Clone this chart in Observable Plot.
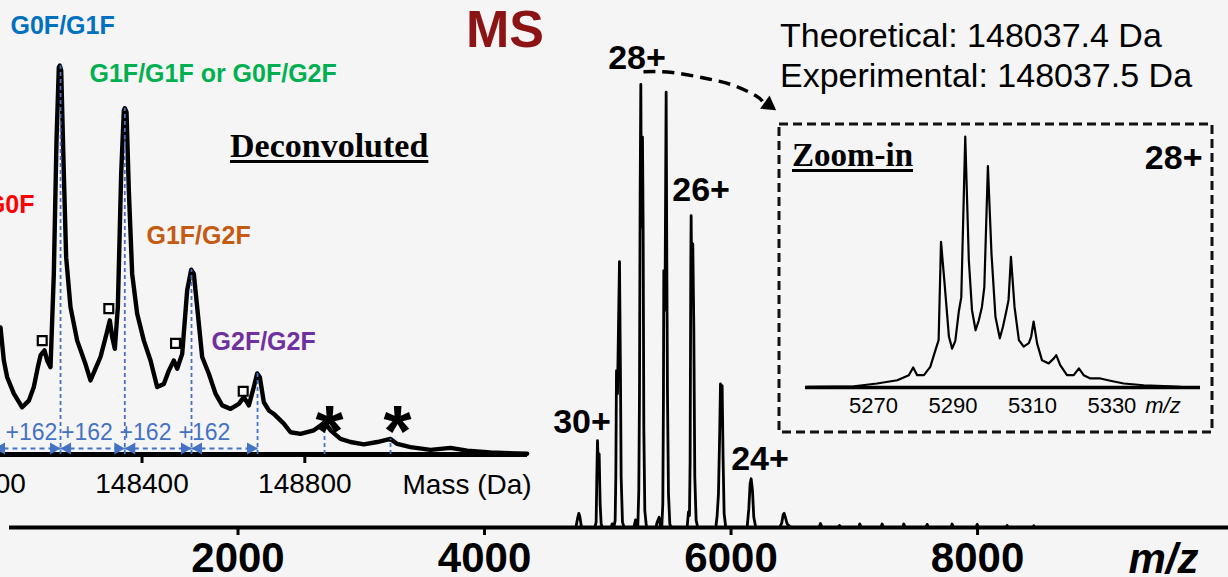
<!DOCTYPE html>
<html><head><meta charset="utf-8">
<script src="https://cdn.jsdelivr.net/npm/d3@7"></script>
<script src="https://cdn.jsdelivr.net/npm/@observablehq/plot@0.6"></script>
<style>
html,body{margin:0;padding:0;background:#f5f5f5;overflow:hidden;}
#root{position:relative;width:1228px;height:577px;overflow:hidden;font-family:"Liberation Sans",Arial,sans-serif;}
.layer{position:absolute;}
.lbl{position:absolute;white-space:nowrap;line-height:1;margin:0;}
</style></head><body><div id="root"></div>
<script>
// ---------------- DATA ----------------
// Main native MS spectrum (m/z, relative intensity)
const mainMz = [4600, 4740.7, 4756.9, 4765.0, 4773.1, 4786.7,
 4894.8, 4905.6, 4911.0, 4916.4, 4921.9, 4930.0, 4938.1, 4946.2, 4957.0,
 5028, 5035.4, 5042,
 5049.0, 5059.8, 5065.2, 5070.6, 5078.7, 5086.8, 5094.9, 5103.0, 5108.4, 5119.2, 5132.8,
 5211.2, 5224.7, 5238.2,
 5243.6, 5251.7, 5257.2, 5262.6, 5268.0, 5273.4, 5278.8, 5281.5, 5286.9, 5292.3, 5300.4, 5314.0,
 5390, 5400.5, 5416.7, 5427.5,
 5438.3, 5446.4, 5451.8, 5454.5, 5459.9, 5465.4, 5473.5, 5478.9, 5484.3, 5492.4, 5503.2, 5514.0,
 5643.8, 5654.6, 5662.7, 5668.1, 5673.6, 5676.3, 5681.7, 5689.8, 5697.9, 5706.0, 5716.8, 5730.4,
 5876.4, 5887.2, 5898.0, 5908.8, 5914.2, 5922.3, 5927.7, 5935.8, 5944.0, 5957.5,
 6130.5, 6144.1, 6154.9, 6163.0, 6173.8, 6184.6, 6200.8,
 6395.7, 6412.0, 6422.8, 6430.9, 6441.7, 6455.2, 6476.9, 6495.8,
 6715, 6725.6, 6738, 6870, 6879.7, 6890, 7035, 7044.7, 7056, 7216, 7225.9, 7238,
 7392, 7401.6, 7414, 7581, 7590.9, 7602, 7784, 7793.7, 7806, 7987, 7996.5, 8008,
 8230, 8239.9, 8250, 8446, 8456.2, 8466, 10036];
const mainInt = [0, 0, 2.3, 3.2, 2.5, 0,
 0, 1.2, 11.4, 19.6, 15.1, 16.6, 5.3, 0.8, 0,
 0, 0.8, 0,
 0, 1.6, 11.4, 35.4, 30.2, 45.2, 60.0, 33.9, 11.4, 1.2, 0,
 0, 1.7, 0.5,
 0.2, 8.3, 30.2, 75.3, 100, 67.8, 82.8, 88.1, 67.8, 22.6, 3.8, 0,
 0, 1.2, 2.3, 0.2,
 0.2, 5.3, 30.2, 58.0, 49.0, 56.5, 98.3, 60.3, 30.2, 7.6, 0.8, 0,
 0, 3.5, 2.7, 15.1, 60.3, 70.4, 52.8, 64.0, 45.2, 11.4, 1.6, 0,
 0, 2.7, 7.6, 22.6, 32.4, 30.2, 32.0, 15.1, 3.1, 0,
 0, 4.2, 9.9, 11.0, 8.4, 2.3, 0,
 0.1, 1.05, 2.9, 3.2, 2.2, 0.8, 0.2, 0,
 0, 0.9, 0, 0, 0.45, 0, 0, 0.8, 0, 0, 0.8, 0,
 0, 0.8, 0, 0, 0.7, 0, 0, 0.8, 0, 0, 0.7, 0,
 0, 0.45, 0, 0, 0.4, 0, 0];
const mainTicks = [2000, 4000, 6000, 8000];
const chargeText = ["30+", "28+", "26+", "24+"];
const chargeMz = [4790.7, 5236.9, 5757.0, 6234.8];
const chargeInt = [21.4, 103.6, 73.8, 12.9];
// dashed curved arrow from 28+ to zoom-in box
const arrowMz = [5289.6, 5525, 5808.9, 6019.8, 6198.3, 6255];
const arrowInt = [102.9, 102.7, 101.3, 99.8, 97.5, 96.2];
const arrowHead = {mz: 6304.6, i: 95.4};

// Deconvoluted spectrum (mass in Da, relative intensity)
const deconvMass = [148052.3, 148060.5, 148068.7, 148085.1, 148105.5, 148121.9, 148134.2, 148144.0, 148150.6, 148160.4,
 148167.0, 148175.2, 148183.3, 148189.9, 148195.6, 148198.1, 148201.4, 148207.9, 148213.6, 148224.3,
 148240.7, 148261.1, 148273.4, 148285.7, 148298.0, 148312.7, 148320.9, 148326.7, 148333.2, 148340.6,
 148348.8, 148355.3, 148357.8, 148361.9, 148367.6, 148375.8, 148388.1, 148404.5, 148420.9, 148437.2,
 148453.6, 148465.9, 148478.2, 148486.4, 148498.7, 148510.9, 148520.8, 148527.3, 148535.5, 148547.8,
 148564.2, 148580.6, 148597.0, 148617.4, 148637.9, 148650.2, 148662.5, 148674.7, 148683.0, 148689.5,
 148699.3, 148711.6, 148723.8, 148748.4, 148764.8, 148789.4, 148822.1, 148838.5, 148848.4, 148863.1,
 148887.7, 148912.3, 148945.0, 148977.9, 149010.5, 149027.0, 149059.7, 149108.8, 149157.9, 149199.0,
 149256.2, 149346.4];
const deconvInt = [32.6, 24.1, 19.8, 15.6, 12.1, 13.8, 17.3, 22.4, 25.4, 26.7,
 24.1, 22.4, 46.3, 80.5, 99.3, 99.7, 98.5, 72.0, 50.6, 37.8,
 29.2, 23.2, 19.0, 22.0, 25.0, 30.9, 34.4, 30.1, 27.1, 37.8,
 72.0, 88.2, 88.8, 87.8, 67.7, 46.3, 36.1, 29.2, 24.1, 17.3,
 18.1, 21.5, 24.1, 22.0, 25.8, 42.1, 47.4, 46.3, 37.8, 25.0,
 20.7, 15.6, 12.6, 11.7, 13.0, 14.7, 12.6, 17.3, 20.8, 19.8,
 13.4, 11.3, 10.4, 7.9, 5.7, 5.3, 6.2, 7.4, 8.3, 6.2,
 4.0, 3.2, 2.6, 3.2, 4.0, 2.7, 1.9, 1.2, 1.7, 1.0,
 0.5, 0.2];
const massTicks = [148000, 148400, 148800];
const glycoMass = [148037.5, 148199.8, 148357.7, 148521.6, 148683.8];   // G0F/G0F ... G2F/G2F
const peakLineMass = [148199.8, 148357.7, 148521.6, 148683.8, 148848.4, 149010.6];
const peakLineTop = [99.7, 88.8, 47.4, 20.8, 8.3, 4.0];
const plusText = ["+162", "+162", "+162", "+162"];
const plusMass = [148128.5, 148264.8, 148408.6, 148553.5];
const squareMass = [148154.8, 148318.4, 148482.3, 148648.6];
const squareInt = [29.2, 37.4, 28.5, 16.2];
const asteriskMass = [148860.7, 149027.8];
const glycoLabelText = ["G0F/G0F", "G0F/G1F", "G1F/G1F or G0F/G2F", "G1F/G2F", "G2F/G2F"];
const glycoLabelColor = ["#FF0000", "#0070C0", "#00B050", "#C55A11", "#7030A0"];
const glycoLabelMass = [148135.9, 148076.9, 148271.0, 148411.0, 148570.8];
const glycoLabelInt = [61.8, 107.9, 95.4, 54.1, 26.7];

// Zoom-in of the 28+ charge state
const zoomMz = [5253.3, 5265.1, 5270.9, 5276.0, 5278.9, 5280.0, 5281.0, 5282.7, 5284.3, 5285.6,
 5286.4, 5287.0, 5287.9, 5289.0, 5289.8, 5290.6, 5291.5, 5292.1, 5293.1, 5294.0,
 5294.8, 5295.7, 5296.5, 5297.3, 5297.9, 5298.8, 5299.7, 5300.7, 5301.8, 5302.6,
 5303.5, 5304.0, 5304.6, 5305.5, 5306.6, 5307.8, 5309.1, 5309.7, 5310.3, 5311.2,
 5312.4, 5314.1, 5315.4, 5316.0, 5317.0, 5318.7, 5320.4, 5321.7, 5322.9, 5324.6,
 5327.1, 5329.6, 5333.0, 5338.0, 5344.7, 5347.2];
const zoomInt = [0.3, 0.5, 1.6, 2.9, 4.9, 8.0, 4.9, 4.9, 8.2, 14.9,
 18.9, 58.0, 41.4, 20.2, 15.5, 18.6, 30.5, 35.9, 100, 50.7,
 30.8, 22.8, 26.7, 32.1, 40.0, 88.2, 53.4, 28.2, 19.6, 24.3,
 30.9, 34.9, 52.1, 32.1, 18.9, 16.3, 17.7, 20.3, 26.3, 17.5,
 10.9, 9.6, 11.6, 12.9, 8.9, 4.9, 4.9, 7.6, 4.9, 3.6,
 3.6, 2.7, 1.6, 0.9, 0.5, 0.3];
const zoomTicks = [5270, 5290, 5310, 5330];

// ---------------- DRAW ----------------
const FONT = "'Liberation Sans', Arial, Helvetica, sans-serif";
const SERIF = "'Liberation Serif', 'Times New Roman', serif";
const BLUE = "#4472C4";
const root = document.getElementById("root");
const baseStyle = {background: "transparent", overflow: "visible", fontFamily: FONT, color: "#000"};
const fmt = d3.format("d");

function layer(node, left, top, w, h) {
  const div = document.createElement("div");
  div.className = "layer";
  div.style.left = left + "px"; div.style.top = top + "px";
  div.style.width = w + "px"; div.style.height = h + "px";
  div.appendChild(node);
  root.appendChild(div);
}

const mainData = mainMz.map((mz, k) => ({mz, i: mainInt[k]}));
const charges = chargeText.map((t, k) => ({t, mz: chargeMz[k], i: chargeInt[k]}));
const arrowPath = arrowMz.map((mz, k) => ({mz, i: arrowInt[k]}));

const mainPlot = Plot.plot({
  width: 1228, height: 577,
  marginLeft: 9, marginRight: 0, marginTop: 84, marginBottom: 50,
  x: {domain: [146, 10036], label: null},
  y: {domain: [0, 100], axis: null},
  style: baseStyle,
  marks: [
    Plot.line(mainData, {x: "mz", y: "i", stroke: "#000", strokeWidth: 2.8}),
    Plot.ruleY([0], {stroke: "#000", strokeWidth: 4}),
    Plot.axisX({ticks: mainTicks, tickSize: 8, strokeWidth: 3, tickPadding: 7, fontSize: 42,
      fontWeight: "bold", tickFormat: fmt, label: null}),
    Plot.text(["m/z"], {x: 9224, y: 0, dy: 45, text: d => d, lineAnchor: "bottom", textAnchor: "start",
      fontSize: 42, fontWeight: "bold", fontStyle: "italic"}),
    Plot.text(charges, {x: "mz", y: "i", text: "t", lineAnchor: "bottom", fontSize: 34, fontWeight: "bold"}),
    Plot.line(arrowPath, {x: "mz", y: "i", curve: "natural", stroke: "#000", strokeWidth: 3.5,
      strokeDasharray: "12,7", strokeLinecap: "butt"}),
    Plot.dot([arrowHead], {x: "mz", y: "i", symbol: "triangle", r: 6, fill: "#000", rotate: 126})
  ]
});
layer(mainPlot, 0, 0, 1228, 577);

// Deconvoluted inset
const deconvData = deconvMass.map((m, k) => ({m, i: deconvInt[k]}));
const peakLines = peakLineMass.map((m, k) => ({m, top: peakLineTop[k]}));
const arrows = glycoMass.slice(0, -1).map((m, k) => ({a: m, b: glycoMass[k + 1]}));
const plus = plusText.map((t, k) => ({t, m: plusMass[k]}));
const squares = squareMass.map((m, k) => ({m, i: squareInt[k]}));
const glycoLabels = glycoLabelText.map((t, k) => ({t, c: glycoLabelColor[k], m: glycoLabelMass[k], i: glycoLabelInt[k]}));

const deconvPlot = Plot.plot({
  width: 560, height: 520,
  marginLeft: 0, marginRight: 33, marginTop: 64, marginBottom: 66,
  x: {domain: [148052.3, 149347.1], label: null},
  y: {domain: [0, 100], axis: null},
  color: {type: "identity"},
  style: baseStyle,
  marks: [
    Plot.ruleY([0], {stroke: "#000", strokeWidth: 5}),
    Plot.axisX({ticks: massTicks, tickSize: 9, strokeWidth: 3, tickPadding: 10, fontSize: 28,
      tickFormat: fmt, label: null}),
    Plot.text(["Mass (Da)"], {x: 149040, y: 0, dy: 39, text: d => d, lineAnchor: "bottom",
      textAnchor: "start", fontSize: 28}),
    Plot.line(deconvData, {x: "m", y: "i", stroke: "#000", strokeWidth: 4.4}),
    Plot.ruleX(peakLines, {x: "m", y1: 0, y2: "top", stroke: BLUE, strokeWidth: 1.8, strokeDasharray: "4,3"}),
    Plot.link(arrows, {x1: "a", x2: "b", y1: 1.54, y2: 1.54, stroke: BLUE, strokeWidth: 2,
      strokeDasharray: "5,4", strokeLinecap: "butt"}),
    Plot.dot(arrows, {x: "a", y: 1.54, symbol: "triangle", r: 4.5, fill: BLUE, rotate: -90, dx: 7}),
    Plot.dot(arrows, {x: "b", y: 1.54, symbol: "triangle", r: 4.5, fill: BLUE, rotate: 90, dx: -7}),
    Plot.text(plus, {x: "m", y: 3.6, text: "t", lineAnchor: "bottom", fontSize: 23, fill: BLUE}),
    Plot.dot(squares, {x: "m", y: "i", symbol: "square", r: 5, stroke: "#000", strokeWidth: 2.2, fill: "#fff"}),
    Plot.text(asteriskMass, {x: d => d, y: -0.5, text: () => "*", lineAnchor: "bottom",
      fontSize: 72, fontWeight: "bold"}),
    Plot.text(glycoLabels.slice(0, 1), {x: "m", y: "i", text: "t", fill: "c", textAnchor: "end",
      lineAnchor: "bottom", fontSize: 25, fontWeight: "bold"}),
    Plot.text(glycoLabels.slice(1), {x: "m", y: "i", text: "t", fill: "c", textAnchor: "start",
      lineAnchor: "bottom", fontSize: 25, fontWeight: "bold"})
  ]
});
layer(deconvPlot, 0, 0, 560, 520);

// Zoom-in inset
const zoomData = zoomMz.map((mz, k) => ({mz, i: zoomInt[k]}));
const zoomDomain = [5252.9, 5352.3];
const zoomPlot = Plot.plot({
  width: 436, height: 311, margin: 0,
  x: {domain: zoomDomain, range: [28, 423], axis: null},
  y: {domain: [0, 100], range: [265, 14], axis: null},
  style: baseStyle,
  marks: [
    Plot.frame({stroke: "#111", strokeWidth: 3, strokeDasharray: "9,5", inset: 1.5}),
    Plot.ruleY([0], {x1: zoomDomain[0], x2: zoomDomain[1], stroke: "#000", strokeWidth: 3.5}),
    Plot.line(zoomData, {x: "mz", y: "i", stroke: "#000", strokeWidth: 2.2}),
    Plot.text(zoomTicks, {x: d => d, y: 0, text: d => fmt(d), lineAnchor: "top", dy: 10, fontSize: 22}),
    Plot.text(["m/z"], {x: 5338.4, y: 0, text: d => d, lineAnchor: "top", dy: 10, textAnchor: "start",
      fontSize: 22, fontStyle: "italic"}),
    Plot.text(["28+"], {frameAnchor: "top-right", text: d => d, textAnchor: "end", lineAnchor: "bottom",
      dx: -11, dy: 46, fontSize: 34, fontWeight: "bold"})
  ]
});
layer(zoomPlot, 777, 122, 436, 311);

// Title and annotation texts
function label(text, left, baseline, size, opts = {}) {
  const d = document.createElement("div");
  d.className = "lbl";
  d.textContent = text;
  const family = opts.serif ? SERIF : FONT;
  const asc = opts.serif ? 0.8375 : 0.8465;
  d.style.left = left + "px";
  d.style.top = (baseline - asc * size) + "px";
  d.style.fontSize = size + "px";
  d.style.fontFamily = family;
  d.style.fontWeight = opts.bold ? "bold" : "normal";
  d.style.color = opts.color || "#000";
  if (opts.underline) {
    d.style.textDecoration = "underline";
    d.style.textDecorationThickness = "3px";
    d.style.textUnderlineOffset = "3px";
  }
  root.appendChild(d);
}
label("MS", 466, 47, 52, {bold: true, color: "#8C1414"});
label("Theoretical: 148037.4 Da", 780, 47, 34);
label("Experimental: 148037.5 Da", 780, 87, 34);
label("Deconvoluted", 230, 157, 34, {serif: true, bold: true, underline: true});
label("Zoom-in", 792, 167, 33, {serif: true, bold: true, underline: true});
</script>
</body></html>
